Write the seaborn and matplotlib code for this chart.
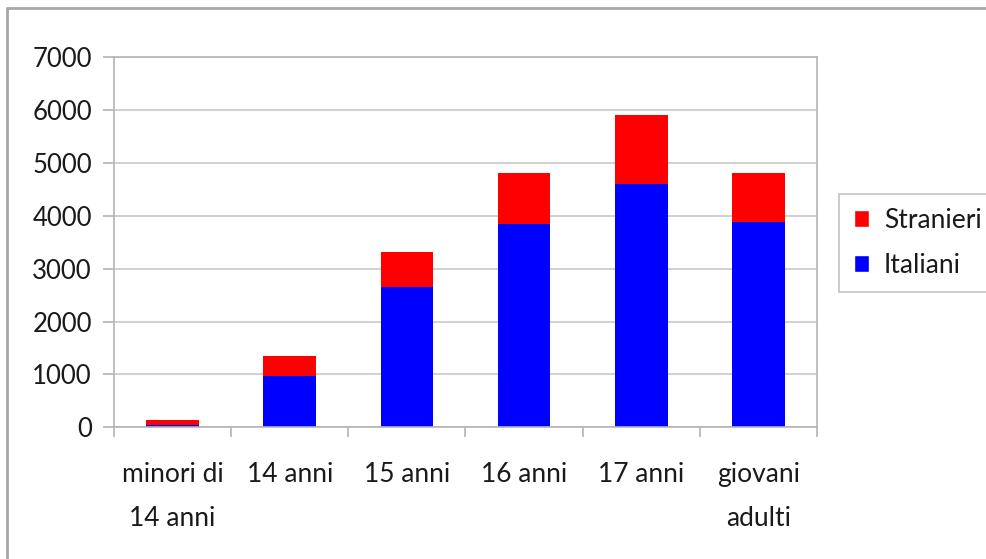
import matplotlib.pyplot as plt
import pandas as pd
import seaborn as sns
import numpy as np
from matplotlib.patches import Patch
from matplotlib.lines import Line2D

# Data
categorie = ['minori di\n14 anni', '14 anni', '15 anni', '16 anni', '17 anni', 'giovani\nadulti']
italiani = [50, 970, 2660, 3840, 4600, 3880]
stranieri = [80, 370, 645, 965, 1300, 935]

df = pd.DataFrame({'categoria': categorie, 'Italiani': italiani, 'Stranieri': stranieri})
df['totale'] = df['Italiani'] + df['Stranieri']

sns.set_style('white')
plt.rcParams['font.family'] = ['Lato', 'DejaVu Sans']
plt.rcParams['text.color'] = '#1a1a1a'

fig = plt.figure(figsize=(9.87, 5.59), dpi=100)
ax = fig.add_axes([114/987, 1-427.3/559, (817-114)/987, (427.3-57)/559])

# stacked bars: total in red, italiani over it in blue
sns.barplot(data=df, x='categoria', y='totale', color='#ff0000', width=0.45,
            saturation=1, ax=ax, edgecolor='none')
sns.barplot(data=df, x='categoria', y='Italiani', color='#0000ff', width=0.45,
            saturation=1, ax=ax, edgecolor='none')

ax.set_ylim(0, 7000)
ax.set_xlim(-0.5, 5.5)
ax.set_yticks(np.arange(0, 7001, 1000))
ax.yaxis.grid(True, color='#c8c8c8', linewidth=1.2)
ax.set_axisbelow(True)
ax.set_xlabel('')
ax.set_ylabel('')
for s in ax.spines.values():
    s.set_color('#b4b4b4')
    s.set_linewidth(1.2)

ax.tick_params(axis='y', left=True, labelsize=18.5, length=8, color='#b4b4b4', width=1.2,
               pad=8, labelcolor='#1a1a1a')
ax.tick_params(axis='x', which='major', labelsize=19, length=0, pad=25, labelcolor='#1a1a1a')
ax.set_xticks(np.arange(-0.5, 6, 1), minor=True)
ax.tick_params(axis='x', which='minor', bottom=True, length=7, color='#b4b4b4', width=1.2)
for lab in ax.get_xticklabels():
    lab.set_linespacing(1.95)
    lab.set_verticalalignment('top')

handles = [Patch(facecolor='#ff0000', label='Stranieri'),
           Patch(facecolor='#0000ff', label='Italiani')]
leg = fig.legend(handles=handles, loc='center left', bbox_to_anchor=(839/987, 1-243/559),
                 fontsize=19, frameon=True, fancybox=False, handlelength=0.6,
                 handleheight=0.6, handletextpad=0.55, labelspacing=0.75,
                 borderpad=0.55, borderaxespad=0)
leg.get_frame().set_edgecolor('#b4b4b4')
leg.get_frame().set_linewidth(1.2)

# outer chart frame
fig.add_artist(Line2D([7.5/987, 7.5/987], [0, 1-8/559], color='#a8a8a8', lw=2))
fig.add_artist(Line2D([7.5/987, 1], [1-8/559, 1-8/559], color='#a8a8a8', lw=2))

fig.savefig('out.png', dpi=100)
